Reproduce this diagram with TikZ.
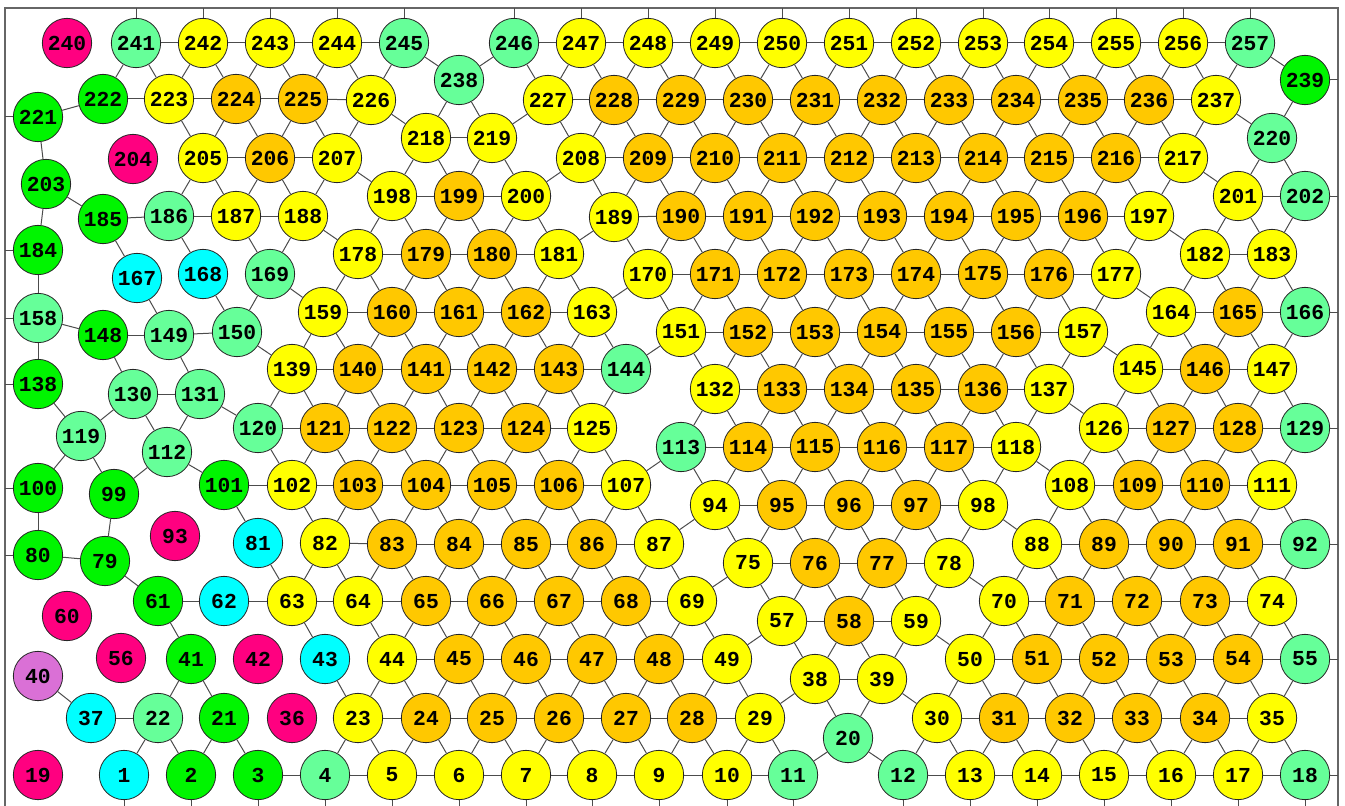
\documentclass[tikz,border=0pt]{standalone}
\usepackage{fontspec}
\setmonofont{Liberation Mono}
\definecolor{cM}{RGB}{255,0,128}
\definecolor{cT}{RGB}{102,255,153}
\definecolor{cG}{RGB}{0,245,0}
\definecolor{cY}{RGB}{255,255,0}
\definecolor{cO}{RGB}{255,200,0}
\definecolor{cC}{RGB}{0,255,255}
\definecolor{cP}{RGB}{218,112,214}
\tikzset{
  vtx/.style={circle,draw=black!85,line width=0.6pt,minimum size=37pt,inner sep=0pt,
    font=\ttfamily\bfseries\fontsize{16}{16}\selectfont},
  edge/.style={draw=black!70,line width=0.75pt},
  frame/.style={draw=black!60,line width=0.9pt}
}
\begin{document}
\begin{tikzpicture}[x=0.75pt,y=-0.75pt]
\useasboundingbox (0,0) rectangle (1345,806);
\draw[frame] (5,8) rectangle (1338,830);
\coordinate (T) at (0,8);
\coordinate (B) at (0,830);
\coordinate (L) at (5,0);
\coordinate (R) at (1338,0);
\foreach \n/\x/\y/\c in {
1/124/775/cC,2/191/775/cG,3/258/775/cG,4/325/775/cT,5/392/775/cY,6/459/775/cY,7/526/775/cY,8/592/775/cY,9/659/775/cY,10/727/775/cY,
11/793/775/cT,12/903/775/cT,13/970/775/cY,14/1037/775/cY,15/1104/775/cY,16/1171/775/cY,17/1238/775/cY,18/1305/775/cT,19/38/775/cM,20/848/738/cT,
21/224/718/cG,22/158/718/cT,23/358/718/cY,24/426/718/cO,25/492/718/cO,26/559/718/cO,27/626/718/cO,28/692/718/cO,29/760/718/cY,30/937/718/cY,
31/1004/718/cO,32/1070/718/cO,33/1137/718/cO,34/1205/718/cO,35/1272/718/cY,36/292/718/cM,37/91/718/cC,38/815/679/cY,39/882/679/cY,40/38/676/cP,
41/191/659/cG,42/258/659/cM,43/325/659/cC,44/392/659/cY,45/459/659/cO,46/526/659/cO,47/592/659/cO,48/659/659/cO,49/727/659/cY,50/970/659/cY,
51/1037/659/cO,52/1104/659/cO,53/1171/659/cO,54/1238/659/cO,55/1305/659/cT,56/121/658/cM,57/782/621/cY,58/849/621/cO,59/916/621/cY,60/67/616/cM,
61/158/601/cG,62/224/601/cC,63/292/601/cY,64/358/601/cY,65/426/601/cO,66/492/601/cO,67/559/601/cO,68/626/601/cO,69/692/601/cY,70/1004/601/cY,
71/1070/601/cO,72/1137/601/cO,73/1205/601/cO,74/1272/601/cY,75/748/563/cY,76/815/563/cO,77/882/563/cO,78/949/563/cY,79/105/561/cG,80/38/555/cG,
81/258/543/cC,82/325/543/cY,83/392/544/cO,84/459/544/cO,85/526/544/cO,86/592/544/cO,87/659/544/cY,88/1037/544/cY,89/1104/544/cO,90/1171/544/cO,
91/1238/544/cO,92/1305/544/cT,93/175/536/cM,94/715/505/cY,95/782/505/cO,96/849/505/cO,97/916/505/cO,98/983/505/cY,99/114/494/cG,100/38/488/cG,
101/224/485/cG,102/292/485/cY,103/358/485/cO,104/426/485/cO,105/492/485/cO,106/559/485/cO,107/626/485/cY,108/1070/485/cY,109/1138/485/cO,110/1205/485/cO,
111/1272/485/cY,112/167/452/cT,113/681/447/cT,114/748/447/cO,115/815/447/cO,116/882/447/cO,117/949/447/cO,118/1016/447/cY,119/81/436/cT,120/258/428/cT,
121/325/428/cO,122/392/428/cO,123/459/428/cO,124/526/428/cO,125/592/428/cY,126/1104/428/cY,127/1171/428/cO,128/1238/428/cO,129/1305/428/cT,130/133/394/cT,
131/200/394/cT,132/715/389/cY,133/782/389/cO,134/849/389/cO,135/916/389/cO,136/983/389/cO,137/1049/389/cY,138/38/384/cG,139/292/369/cY,140/358/369/cO,
141/426/369/cO,142/492/369/cO,143/559/369/cO,144/626/369/cT,145/1138/369/cY,146/1205/369/cO,147/1272/369/cY,148/103/335/cG,149/169/335/cT,150/237/332/cT,
151/681/332/cY,152/748/332/cO,153/815/332/cO,154/882/332/cO,155/949/332/cO,156/1016/332/cO,157/1083/332/cY,158/38/318/cT,159/323/312/cY,160/392/312/cO,
161/459/312/cO,162/526/312/cO,163/592/312/cY,164/1171/312/cY,165/1238/312/cO,166/1305/312/cT,167/137/278/cC,168/203/274/cC,169/270/274/cT,170/648/274/cY,
171/715/274/cO,172/782/274/cO,173/849/274/cO,174/916/274/cO,175/983/274/cO,176/1049/274/cO,177/1116/274/cY,178/358/254/cY,179/426/254/cO,180/492/254/cO,
181/559/254/cY,182/1205/254/cY,183/1272/254/cY,184/38/250/cG,185/103/219/cG,186/169/216/cT,187/236/216/cY,188/303/216/cY,189/614/217/cY,190/681/216/cO,
191/748/216/cO,192/815/216/cO,193/882/216/cO,194/949/216/cO,195/1016/216/cO,196/1083/216/cO,197/1149/216/cY,198/392/196/cY,199/459/196/cO,200/526/196/cY,
201/1238/196/cY,202/1305/196/cT,203/46/184/cG,204/133/159/cM,205/203/158/cY,206/270/158/cO,207/337/158/cY,208/581/158/cY,209/648/158/cO,210/715/158/cO,
211/782/158/cO,212/849/158/cO,213/916/158/cO,214/983/158/cO,215/1049/158/cO,216/1116/158/cO,217/1183/158/cY,218/426/138/cY,219/492/138/cY,220/1272/138/cT,
221/38/117/cG,222/103/99/cG,223/169/99/cY,224/236/99/cO,225/303/99/cO,226/371/100/cY,227/548/100/cY,228/614/100/cO,229/681/100/cO,230/748/100/cO,
231/815/100/cO,232/882/100/cO,233/949/100/cO,234/1016/100/cO,235/1083/100/cO,236/1149/100/cO,237/1216/100/cY,238/459/80/cT,239/1305/80/cG,240/67/43/cM,
241/136/43/cT,242/203/43/cY,243/270/43/cY,244/337/43/cY,245/404/43/cT,246/514/43/cT,247/581/43/cY,248/648/43/cY,249/715/43/cY,250/782/43/cY,
251/849/43/cY,252/916/43/cY,253/983/43/cY,254/1049/43/cY,255/1116/43/cY,256/1183/43/cY,257/1250/43/cT}
  \node[vtx,fill=\c] (n\n) at (\x,\y) {\n};
% horizontal edges
\foreach \a/\b in {241/242,242/243,243/244,244/245,246/247,247/248,248/249,249/250,250/251,251/252,252/253,253/254,254/255,255/256,256/257,
222/221,222/223,223/224,224/225,225/226,227/228,228/229,229/230,230/231,231/232,232/233,233/234,234/235,235/236,236/237,
205/206,206/207,218/219,208/209,209/210,210/211,211/212,212/213,213/214,214/215,215/216,216/217,
185/186,186/187,187/188,198/199,199/200,189/190,190/191,191/192,192/193,193/194,194/195,195/196,196/197,201/202,182/183,
178/179,179/180,180/181,170/171,171/172,172/173,173/174,174/175,175/176,176/177,
148/149,149/150,159/160,160/161,161/162,162/163,151/152,152/153,153/154,154/155,155/156,156/157,164/165,165/166,
139/140,140/141,141/142,142/143,143/144,132/133,133/134,134/135,135/136,136/137,145/146,146/147,
130/131,120/121,121/122,122/123,123/124,124/125,113/114,114/115,115/116,116/117,117/118,126/127,127/128,128/129,
101/102,102/103,103/104,104/105,105/106,106/107,94/95,95/96,96/97,97/98,108/109,109/110,110/111,
80/79,82/83,83/84,84/85,85/86,86/87,75/76,76/77,77/78,88/89,89/90,90/91,91/92,
61/62,62/63,63/64,64/65,65/66,66/67,67/68,68/69,57/58,58/59,70/71,71/72,72/73,73/74,
44/45,45/46,46/47,47/48,48/49,38/39,50/51,51/52,52/53,53/54,54/55,
37/22,23/24,24/25,25/26,26/27,27/28,28/29,30/31,31/32,32/33,33/34,34/35,
3/4,4/5,5/6,6/7,7/8,8/9,9/10,10/11,12/13,13/14,14/15,15/16,16/17,17/18}
  \draw[edge] (n\a) -- (n\b);
% other edges
\foreach \a/\b in {241/222,241/223,242/223,242/224,243/224,243/225,244/225,244/226,245/226,245/238,238/246,246/227,247/227,247/228,248/228,248/229,
249/229,249/230,250/230,250/231,251/231,251/232,252/232,252/233,253/233,253/234,254/234,254/235,255/235,255/236,256/236,256/237,257/237,257/239,
221/203,223/205,224/205,224/206,225/206,225/207,226/207,226/218,238/218,238/219,227/219,227/208,228/208,228/209,229/209,229/210,230/210,230/211,
231/211,231/212,232/212,232/213,233/213,233/214,234/214,234/215,235/215,235/216,236/216,236/217,237/217,237/220,239/220,
203/185,203/184,185/167,205/186,205/187,206/187,206/188,207/188,207/198,218/198,218/199,219/199,219/200,208/200,208/189,209/189,209/190,
210/190,210/191,211/191,211/192,212/192,212/193,213/193,213/194,214/194,214/195,215/195,215/196,216/196,216/197,217/197,217/201,220/201,220/202,
186/168,187/169,188/169,188/178,198/178,198/179,199/179,199/180,200/180,200/181,189/181,189/170,190/170,190/171,191/171,191/172,192/172,192/173,
193/173,193/174,194/174,194/175,195/175,195/176,196/176,196/177,197/177,197/182,201/182,201/183,202/183,
184/158,167/149,168/150,169/150,169/159,178/159,178/160,179/160,179/161,180/161,180/162,181/162,181/163,163/170,170/151,171/151,171/152,172/152,
172/153,173/153,173/154,174/154,174/155,175/155,175/156,176/156,176/157,177/157,177/164,182/164,182/165,183/165,183/166,
158/148,158/138,148/130,149/131,150/139,159/139,159/140,160/140,160/141,161/141,161/142,162/142,162/143,163/143,163/144,151/144,151/132,152/132,
152/133,153/133,153/134,154/134,154/135,155/135,155/136,156/136,156/137,157/137,157/145,164/145,164/146,165/146,165/147,166/147,
138/119,130/119,130/112,131/112,131/120,139/120,139/121,140/121,140/122,141/122,141/123,142/123,142/124,143/124,143/125,144/125,132/113,132/114,
133/114,133/115,134/115,134/116,135/116,135/117,136/117,136/118,137/118,137/126,145/126,145/127,146/127,146/128,147/128,147/129,
119/100,119/99,112/99,112/101,120/102,121/102,121/103,122/103,122/104,123/104,123/105,124/105,124/106,125/106,125/107,107/113,113/94,114/94,
114/95,115/95,115/96,116/96,116/97,117/97,117/98,118/98,118/108,126/108,126/109,127/109,127/110,128/110,128/111,129/111,
100/80,99/79,101/81,102/82,103/82,103/83,104/83,104/84,105/84,105/85,106/85,106/86,107/86,107/87,94/87,94/75,95/75,95/76,96/76,96/77,97/77,
97/78,98/78,98/88,108/88,108/89,109/89,109/90,110/90,110/91,111/91,111/92,
79/61,81/63,82/63,82/64,83/64,83/65,84/65,84/66,85/66,85/67,86/67,86/68,87/68,87/69,69/75,75/57,76/57,76/58,77/58,77/59,78/59,78/70,88/70,
88/71,89/71,89/72,90/72,90/73,91/73,91/74,92/74,
61/41,63/43,64/44,65/44,65/45,66/45,66/46,67/46,67/47,68/47,68/48,69/48,69/49,57/49,57/38,58/38,58/39,59/39,59/50,70/50,70/51,71/51,71/52,
72/52,72/53,73/53,73/54,74/54,74/55,
40/37,41/22,41/21,43/23,44/23,44/24,45/24,45/25,46/25,46/26,47/26,47/27,48/27,48/28,49/28,49/29,38/29,38/20,39/20,39/30,50/30,50/31,51/31,
51/32,52/32,52/33,53/33,53/34,54/34,54/35,55/35,
22/1,22/2,21/2,21/3,4/23,23/5,24/5,24/6,25/6,25/7,26/7,26/8,27/8,27/9,28/9,28/10,29/10,29/11,20/11,20/12,30/12,30/13,31/13,31/14,32/14,
32/15,33/15,33/16,34/16,34/17,35/17,35/18}
  \draw[edge] (n\a) -- (n\b);
% boundary ticks
\foreach \n in {241,242,243,244,245,246,247,248,249,250,251,252,253,254,255,256,257}
  \draw[edge] (n\n) -- (n\n |- T);
\foreach \n in {1,2,3,4,5,6,7,8,9,10,11,12,13,14,15,16,17,18}
  \draw[edge] (n\n) -- (n\n |- B);
\foreach \n in {221,184,158,138,100,80}
  \draw[edge] (n\n) -- (n\n -| L);
\foreach \n in {239,202,166,129,92,55,18}
  \draw[edge] (n\n) -- (n\n -| R);
\end{tikzpicture}
\end{document}
